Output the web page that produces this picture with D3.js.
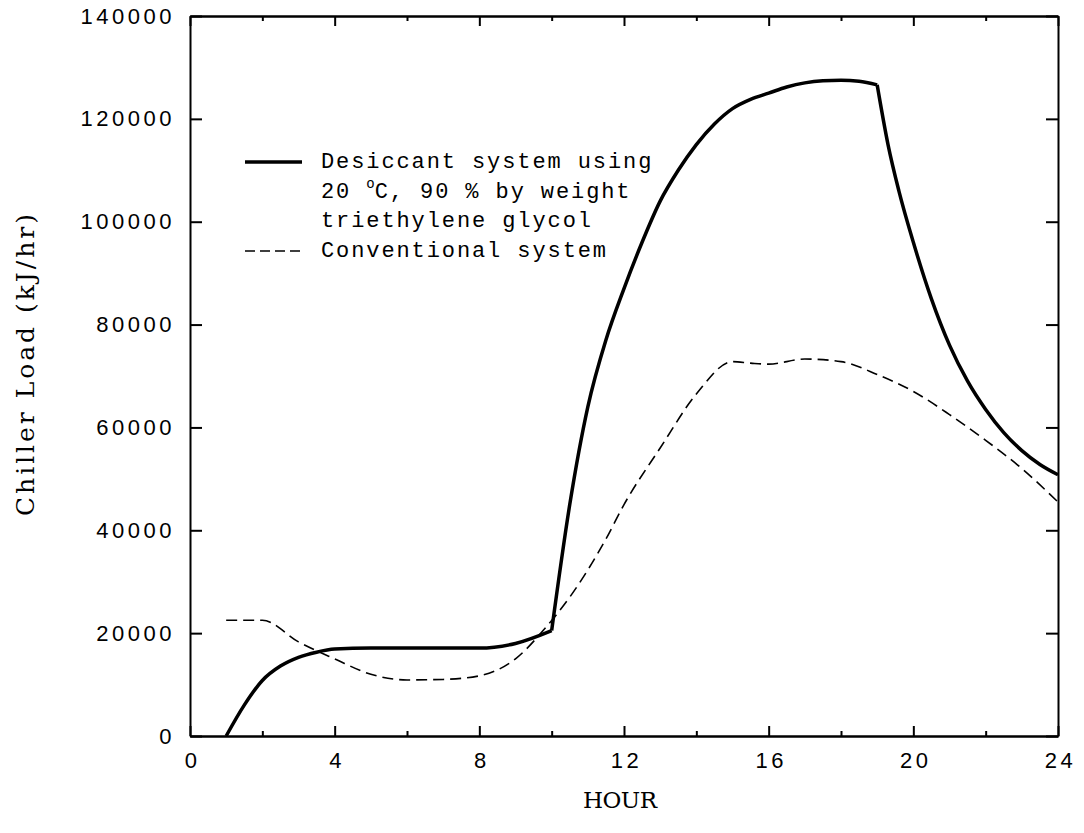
<!DOCTYPE html>
<html>
<head>
<meta charset="utf-8">
<script src="https://cdn.jsdelivr.net/npm/d3@7"></script>
<style>
  body { margin: 0; background: #fff; }
  .axis path, .axis line { stroke: #000; stroke-width: 2; }
  .axis text { font-family: "Liberation Sans", Arial, sans-serif; font-size: 22px; letter-spacing: 3.5px; fill: #000; }
  .legend text { font-family: "Liberation Mono", "Courier New", monospace; font-size: 22px; fill: #000; }
</style>
</head>
<body>
<svg width="1084" height="833"></svg>
<script>
// hour of day
var hours = [1, 1.5, 2, 2.5, 3, 3.5, 4, 5, 6, 7, 8, 9, 10, 10.5, 11, 11.5, 12, 12.5, 13, 13.5, 14, 14.5, 15, 15.5, 16, 16.5, 17, 17.5, 18, 18.5, 19, 19.3, 19.6, 20, 20.5, 21, 21.5, 22, 22.5, 23, 23.5, 24];

// desiccant system using 20 C, 90 % triethylene glycol
var desiccantLoad = [0, 6000, 10800, 13600, 15300, 16300, 16900, 17100, 17100, 17100, 17100, 18000, 20500, 45000, 64000, 77000, 87000, 96000, 104000, 110000, 115000, 119000, 122000, 123800, 125000, 126200, 127000, 127400, 127500, 127300, 126600, 115000, 106000, 96000, 85000, 76000, 69000, 63500, 59000, 55500, 52800, 50800];

// conventional system
var convHours = [1, 2, 3, 4, 5, 6, 7, 8, 9, 9.8, 10.5, 11.5, 12, 13, 14, 15, 15.5, 16, 17, 18, 19, 20, 21, 22, 23, 24];
var conventionalLoad = [22500, 22500, 18300, 15000, 12000, 10900, 11000, 11700, 15000, 20800, 27000, 38300, 45000, 56000, 66500, 72800, 72500, 72300, 73300, 72800, 70300, 67000, 62500, 57500, 52000, 45500];

// hours where the desiccant curve has a corner
var kinks = [10, 19];

var xMajor = [0, 4, 8, 12, 16, 20, 24];
var xMinor = [2, 6, 10, 14, 18, 22];
var yTicks = [0, 20000, 40000, 60000, 80000, 100000, 120000, 140000];

var legendLines = ["Desiccant system using", "20 ", "triethylene glycol", "Conventional system"];

var margin = {top: 16, right: 26, bottom: 97, left: 190},
    width = 1084 - margin.left - margin.right,
    height = 833 - margin.top - margin.bottom;

var svg = d3.select("svg")
    .append("g")
    .attr("transform", "translate(" + margin.left + "," + margin.top + ")");

var x = d3.scaleLinear().domain([0, 24]).range([0, width]);
var y = d3.scaleLinear().domain([0, 140000]).range([height, 0]);

// bottom axis, ticks pointing in
svg.append("g")
    .attr("class", "axis")
    .attr("transform", "translate(0," + height + ")")
    .call(d3.axisBottom(x).tickValues(xMajor).tickSizeInner(-10).tickSizeOuter(0).tickPadding(16).tickFormat(d3.format("d")));

svg.append("g")
    .attr("class", "axis")
    .attr("transform", "translate(0," + height + ")")
    .call(d3.axisBottom(x).tickValues(xMinor).tickSizeInner(-5).tickSizeOuter(0).tickFormat(""));

// top axis
svg.append("g")
    .attr("class", "axis")
    .call(d3.axisTop(x).tickValues(xMajor).tickSizeInner(-10).tickSizeOuter(0).tickFormat(""));

svg.append("g")
    .attr("class", "axis")
    .call(d3.axisTop(x).tickValues(xMinor).tickSizeInner(-5).tickSizeOuter(0).tickFormat(""));

// left axis
svg.append("g")
    .attr("class", "axis")
    .call(d3.axisLeft(y).tickValues(yTicks).tickSizeInner(-12).tickSizeOuter(0).tickPadding(17).tickFormat(d3.format("d")));

// right axis
svg.append("g")
    .attr("class", "axis")
    .attr("transform", "translate(" + width + ",0)")
    .call(d3.axisRight(y).tickValues(yTicks).tickSizeInner(-12).tickSizeOuter(0).tickFormat(""));

svg.selectAll(".axis text").attr("dx", "2px");

// axis titles
svg.append("text")
    .attr("transform", "translate(" + (34 - margin.left) + "," + (365 - margin.top) + ") rotate(-90)")
    .attr("text-anchor", "middle")
    .attr("textLength", 302)
    .attr("lengthAdjust", "spacing")
    .style("font-family", "'DejaVu Serif', serif")
    .style("font-size", "25px")
    .text("Chiller Load (kJ/hr)");

svg.append("text")
    .attr("x", 620 - margin.left)
    .attr("y", 808 - margin.top)
    .attr("text-anchor", "middle")
    .attr("textLength", 74)
    .attr("lengthAdjust", "spacing")
    .style("font-family", "'DejaVu Serif', serif")
    .style("font-size", "23px")
    .text("HOUR");

var line = d3.line()
    .x(function(d) { return x(d.h); })
    .y(function(d) { return y(d.v); })
    .curve(d3.curveMonotoneX);

// split desiccant curve at its corners so they stay sharp
var desiccant = hours.map(function(h, i) { return {h: h, v: desiccantLoad[i]}; });
var cuts = [hours[0]].concat(kinks, [hours[hours.length - 1]]);
var segments = [];
for (var i = 0; i < cuts.length - 1; i++) {
  segments.push(desiccant.filter(function(d) { return d.h >= cuts[i] && d.h <= cuts[i + 1]; }));
}

svg.selectAll(".desiccant")
    .data(segments)
    .enter().append("path")
    .attr("class", "desiccant")
    .attr("d", line)
    .style("fill", "none")
    .style("stroke", "#000")
    .style("stroke-width", 3.5)
    .style("stroke-linejoin", "round");

var conventional = convHours.map(function(h, i) { return {h: h, v: conventionalLoad[i]}; });

svg.append("path")
    .datum(conventional)
    .attr("d", line)
    .style("fill", "none")
    .style("stroke", "#000")
    .style("stroke-width", 1.6)
    .style("stroke-dasharray", "11,6");

// legend
var legend = svg.append("g")
    .attr("class", "legend")
    .attr("transform", "translate(" + (245 - margin.left) + "," + (168 - margin.top) + ")");

legend.append("line")
    .attr("x1", 0).attr("x2", 57)
    .attr("y1", -6).attr("y2", -6)
    .style("stroke", "#000")
    .style("stroke-width", 3.5);

legend.append("line")
    .attr("x1", 0).attr("x2", 57)
    .attr("y1", 83).attr("y2", 83)
    .style("stroke", "#000")
    .style("stroke-width", 1.6)
    .style("stroke-dasharray", "10,5");

var rows = legend.selectAll("text")
    .data(legendLines)
    .enter().append("text")
    .attr("x", 76)
    .attr("y", function(d, i) { return i * 29.7; })
    .style("letter-spacing", "1.9px")
    .text(function(d) { return d; });

// degree sign on the second row
var row2 = d3.select(rows.nodes()[1]);
row2.append("tspan")
    .attr("dy", -10)
    .style("font-size", "14px")
    .style("letter-spacing", "0px")
    .text("o");
row2.append("tspan")
    .attr("dy", 10)
    .text("C, 90 % by weight");
</script>
</body>
</html>
